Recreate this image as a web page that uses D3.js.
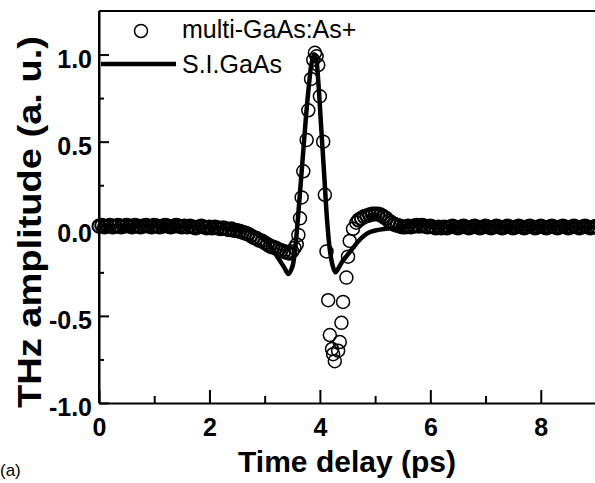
<!DOCTYPE html>
<html>
<head>
<meta charset="utf-8">
<script src="https://cdn.jsdelivr.net/npm/d3@7"></script>
<style>
  body { margin: 0; background: #fff; }
  svg { display: block; }
  text { font-family: "Liberation Sans", Arial, sans-serif; }
</style>
</head>
<body>
<svg id="chart" width="595" height="483"></svg>
<script>
// tick values
const xMajor = [0, 2, 4, 6, 8];
const xMinor = [1, 3, 5, 7, 9];
const yMajor = [-1.0, -0.5, 0.0, 0.5, 1.0];
const yMinor = [-0.75, -0.25, 0.25, 0.75];

// S.I.GaAs (solid line) [time ps, amplitude]
const siGaAs = [
  [0.0,.02],[0.3,.015],[0.6,.02],[1.0,.015],[1.4,.02],[1.8,.015],[2.2,.01],[2.5,0],[2.7,-.01],
  [2.9,-.04],[3.1,-.10],[3.25,-.17],[3.35,-.22],[3.43,-.26],[3.5,-.22],[3.55,-.12],[3.6,.05],
  [3.65,.25],[3.7,.45],[3.75,.65],[3.8,.82],[3.85,.95],[3.9,1.0],[3.93,.98],[3.97,.85],
  [4.02,.60],[4.08,.30],[4.13,.05],[4.18,-.12],[4.23,-.21],[4.28,-.25],[4.33,-.23],[4.4,-.19],
  [4.5,-.15],[4.6,-.11],[4.7,-.07],[4.8,-.04],[4.9,-.02],[5.0,-.01],[5.2,0],[5.4,.005],
  [5.6,.015],[5.8,.035],[5.95,.04],[6.1,.025],[6.3,.015],[6.6,.01],[7.0,.015],[7.5,.01],
  [8.0,.015],[8.5,.01],[9.0,.01]
];

// multi-GaAs:As+ (open circles), before the pulse
const multiPre = [
  [0.00,.015],[0.05,.02],[0.10,.01],[0.15,.015],[0.20,.02],[0.25,.01],[0.30,.015],[0.35,.02],[0.40,.01],[0.45,.015],
  [0.50,.02],[0.55,.015],[0.60,.01],[0.65,.02],[0.70,.015],[0.75,.01],[0.80,.015],[0.85,.02],[0.90,.015],[0.95,.01],
  [1.00,.02],[1.05,.015],[1.10,.01],[1.15,.015],[1.20,.02],[1.25,.015],[1.30,.01],[1.35,.015],[1.40,.02],[1.45,.015],
  [1.50,.01],[1.55,.015],[1.60,.01],[1.65,.015],[1.70,.01],[1.75,.005],[1.80,.01],[1.85,.015],[1.90,.01],[1.95,.005],
  [2.00,.01],[2.05,.005],[2.10,.01],[2.15,.005],[2.20,0],[2.25,.005],[2.30,0],[2.35,-.005],[2.40,0],[2.45,-.01],
  [2.50,-.01],[2.55,-.015],[2.60,-.02],[2.65,-.025],[2.70,-.03],[2.75,-.04],[2.80,-.05],[2.85,-.055],[2.90,-.065],[2.95,-.07],
  [3.00,-.08],[3.05,-.09],[3.10,-.10],[3.15,-.105],[3.20,-.11],[3.25,-.12],[3.30,-.125],[3.35,-.13],[3.40,-.135],[3.45,-.14]
];
// the pulse itself
const multiPulse = [
  [3.50,-.13],[3.54,-.11],[3.58,-.09],[3.61,-.035],[3.64,.06],[3.67,.18],[3.70,.33],[3.76,.51],[3.79,.68],
  [3.84,.86],[3.88,.97],[3.91,1.01],[3.94,.99],[3.97,.94],[4.00,.76],[4.06,.50],[4.09,.195],[4.12,-.13],
  [4.15,-.41],[4.18,-.61],[4.22,-.69],[4.24,-.72],[4.27,-.76],[4.33,-.70],[4.36,-.65],[4.39,-.54],[4.42,-.42],
  [4.48,-.28],[4.51,-.16],[4.54,-.07],[4.60,0.0],[4.66,.035]
];
// after the pulse
const multiPost = [
  [4.70,.05],[4.75,.06],[4.80,.07],[4.85,.075],[4.90,.08],[4.95,.085],[5.00,.085],[5.05,.085],[5.10,.08],[5.15,.07],
  [5.20,.06],[5.25,.045],[5.30,.035],[5.35,.025],[5.40,.02],[5.45,.015],[5.50,.01],[5.55,.01],[5.60,.015],[5.65,.01],
  [5.70,.015],[5.75,.02],[5.80,.015],[5.85,.02],[5.90,.015],[5.95,.01],[6.00,.015],[6.05,.01],[6.10,.005],[6.15,.01],
  [6.20,.005],[6.25,.01],[6.30,.005],[6.35,.01],[6.40,.015],[6.45,.01],[6.50,.005],[6.55,.01],[6.60,.015],[6.65,.01],
  [6.70,.005],[6.75,.01],[6.80,.015],[6.85,.01],[6.90,.005],[6.95,.01],[7.00,.015],[7.05,.01],[7.10,.005],[7.15,.01],
  [7.20,.015],[7.25,.01],[7.30,.005],[7.35,.01],[7.40,.015],[7.45,.01],[7.50,.005],[7.55,.01],[7.60,.015],[7.65,.01],
  [7.70,.005],[7.75,.01],[7.80,.015],[7.85,.01],[7.90,.005],[7.95,.01],[8.00,.015],[8.05,.01],[8.10,.005],[8.15,.01],
  [8.20,.015],[8.25,.01],[8.30,.005],[8.35,.01],[8.40,.015],[8.45,.01],[8.50,.005],[8.55,.01],[8.60,.015],[8.65,.01],
  [8.70,.005],[8.75,.01],[8.80,.015],[8.85,.01],[8.90,.005],[8.95,.01],[9.00,.015]
];

const legendLabels = ["multi-GaAs:As+", "S.I.GaAs"];

const svg = d3.select("#chart");
const mLeft = 99, mRight = 596, mTop = 11, mBottom = 403;

const x = d3.scaleLinear().domain([0, 9]).range([mLeft, mRight]);
const y = d3.scaleLinear().domain([-1, 1.25]).range([mBottom, mTop]);

// circles first, line drawn over them; the dense flat stretches print heavier
function drawCircles(data, sw) {
  svg.append("g")
      .attr("fill", "none")
      .attr("stroke", "#000")
      .attr("stroke-width", sw)
    .selectAll("circle")
    .data(data)
    .join("circle")
      .attr("cx", d => x(d[0]))
      .attr("cy", d => y(d[1]))
      .attr("r", 6.5);
}
drawCircles(multiPre, 2.1);
drawCircles(multiPost, 2.1);
drawCircles(multiPulse, 1.5);

const line = d3.line().x(d => x(d[0])).y(d => y(d[1])).curve(d3.curveCatmullRom);
svg.append("path")
    .datum(siGaAs)
    .attr("fill", "none")
    .attr("stroke", "#000")
    .attr("stroke-width", 4.5)
    .attr("stroke-linejoin", "round")
    .attr("d", line);

// axes
const xAxis = svg.append("g")
    .attr("transform", `translate(0,${mBottom})`)
    .call(d3.axisBottom(x).tickValues(xMajor).tickSize(-13).tickSizeOuter(0).tickPadding(15).tickFormat(d3.format("d")));
svg.append("g")
    .attr("transform", `translate(0,${mBottom})`)
    .call(d3.axisBottom(x).tickValues(xMinor).tickSize(-7).tickSizeOuter(0).tickFormat(""))
    .call(g => g.select(".domain").remove());

const yAxis = svg.append("g")
    .attr("transform", `translate(${mLeft},0)`)
    .call(d3.axisLeft(y).tickValues(yMajor).tickSize(-10).tickSizeOuter(0).tickPadding(7).tickFormat(d3.format(".1f")));
svg.append("g")
    .attr("transform", `translate(${mLeft},0)`)
    .call(d3.axisLeft(y).tickValues(yMinor).tickSize(-5).tickSizeOuter(0).tickFormat(""))
    .call(g => g.select(".domain").remove());

svg.selectAll(".domain").attr("stroke-width", 2);
svg.selectAll(".tick line").attr("stroke-width", 2);
xAxis.selectAll("text").attr("font-size", 25).attr("font-weight", "bold").attr("fill", "#000")
    .attr("font-family", "'Liberation Sans', Arial, sans-serif");
yAxis.selectAll("text").attr("font-size", 25).attr("font-weight", "bold").attr("fill", "#000")
    .attr("dy", "0.5em").attr("font-family", "'Liberation Sans', Arial, sans-serif")
    .text(d => d3.format(".1f")(d).replace("−", "-"));

// top and left frame lines
svg.append("line")
    .attr("x1", mLeft).attr("x2", mRight).attr("y1", mTop).attr("y2", mTop)
    .attr("stroke", "#000").attr("stroke-width", 2);
svg.append("line")
    .attr("x1", mLeft).attr("x2", mLeft).attr("y1", mTop).attr("y2", mBottom)
    .attr("stroke", "#000").attr("stroke-width", 2);

// legend
svg.append("circle").attr("cx", 141).attr("cy", 31).attr("r", 6.5)
    .attr("fill", "none").attr("stroke", "#000").attr("stroke-width", 1.5);
svg.append("line").attr("x1", mLeft + 2).attr("x2", 176).attr("y1", 64).attr("y2", 64)
    .attr("stroke", "#000").attr("stroke-width", 4.5);
svg.append("text").attr("x", 182).attr("y", 38).attr("font-size", 25).text(legendLabels[0]);
svg.append("text").attr("x", 182).attr("y", 73).attr("font-size", 25).text(legendLabels[1]);

// axis titles
svg.append("text")
    .attr("x", 347).attr("y", 472)
    .attr("text-anchor", "middle")
    .attr("font-size", 30).attr("font-weight", "bold")
    .text("Time delay (ps)");
svg.append("text")
    .attr("transform", "translate(41,222) rotate(-90)")
    .attr("text-anchor", "middle")
    .attr("font-size", 34).attr("font-weight", "bold")
    .attr("textLength", 372).attr("lengthAdjust", "spacingAndGlyphs")
    .text("THz amplitude (a. u.)");

svg.append("text").attr("x", 0).attr("y", 476).attr("font-size", 17).text("(a)");
</script>
</body>
</html>
